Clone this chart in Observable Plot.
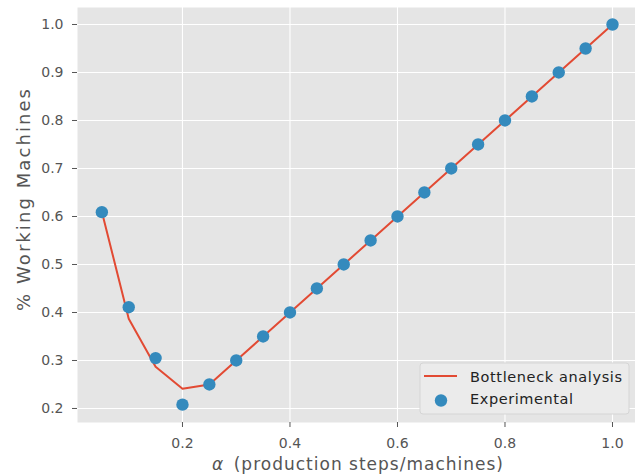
<!DOCTYPE html>
<html>
<head>
<meta charset="utf-8">
<script src="https://cdn.jsdelivr.net/npm/d3@7"></script>
<script src="https://cdn.jsdelivr.net/npm/@observablehq/plot@0.6"></script>
<style>
  html, body { margin: 0; padding: 0; background: white; }
</style>
</head>
<body>
<div id="chart"></div>
<script>
const alphaValues = [0.05,0.10,0.15,0.20,0.25,0.30,0.35,0.40,0.45,0.50,0.55,0.60,0.65,0.70,0.75,0.80,0.85,0.90,0.95,1.00];
const bottleneck = [0.61,0.387,0.287,0.241,0.25,0.30,0.35,0.40,0.45,0.50,0.55,0.60,0.65,0.70,0.75,0.80,0.85,0.90,0.95,1.00];
const experimental = [0.609,0.411,0.305,0.208,0.25,0.30,0.35,0.40,0.45,0.50,0.55,0.60,0.65,0.70,0.75,0.80,0.85,0.90,0.95,1.00];
const xTicks = [0.2,0.4,0.6,0.8,1.0];
const yTicks = [0.2,0.3,0.4,0.5,0.6,0.7,0.8,0.9,1.0];
const seriesNames = ["Bottleneck analysis","Experimental"];
const xLabel = "(production steps/machines)";
const yLabel = "% Working Machines";

const lineData = alphaValues.map((a,i)=>({x:a,y:bottleneck[i]}));
const dotData = alphaValues.map((a,i)=>({x:a,y:experimental[i]}));

const red = "#E24A33", blue = "#348ABD";
const font = "DejaVu Sans";

const chart = Plot.plot({
  width: 635, height: 476,
  marginLeft: 77, marginRight: 0, marginTop: 7, marginBottom: 54,
  style: {background: "white", fontFamily: font, fontSize: "14px", color: "#555", overflow: "visible"},
  x: {domain: [0.0047, 1.0428]},
  y: {domain: [0.1708, 1.0354]},
  marks: [
    Plot.frame({fill: "#E5E5E5", stroke: "none"}),
    Plot.gridX(xTicks, {stroke: "white", strokeOpacity: 1, strokeWidth: 1.1}),
    Plot.gridY(yTicks, {stroke: "white", strokeOpacity: 1, strokeWidth: 1.1}),
    Plot.axisX(xTicks, {tickSize: 5, tickPadding: 11, fontSize: 14, tickFormat: d3.format(".1f"), stroke: "#555", fill: "#555", label: null}),
    Plot.axisY(yTicks, {tickSize: 5, tickPadding: 9, fontSize: 14, tickFormat: d3.format(".1f"), stroke: "#555", fill: "#555", label: null}),
    Plot.line(lineData, {x: "x", y: "y", stroke: red, strokeWidth: 2}),
    Plot.dot(dotData, {x: "x", y: "y", r: 6.2, fill: blue, stroke: "none"})
  ]
});
document.getElementById("chart").appendChild(chart);

const svg = d3.select(chart);
// x label
const xl = svg.append("text")
  .attr("x", 212).attr("y", 470)
  .attr("text-anchor", "start")
  .attr("textLength", 291).attr("lengthAdjust", "spacing")
  .attr("font-family", font).attr("font-size", 17).attr("fill", "#555");
xl.append("tspan").attr("font-style", "italic").text("α");
xl.append("tspan").text("\u2002" + xLabel);
// y label
svg.append("text")
  .attr("transform", "translate(30,200) rotate(-90)")
  .attr("text-anchor", "middle")
  .attr("textLength", 222).attr("lengthAdjust", "spacing")
  .attr("font-family", font).attr("font-size", 18).attr("fill", "#555")
  .text(yLabel);

// legend
const lg = svg.append("g");
lg.append("rect").attr("x", 420).attr("y", 363).attr("width", 209).attr("height", 51)
  .attr("rx", 3).attr("fill", "#EBEBEB").attr("stroke", "#D5D5D5").attr("stroke-width", 1);
lg.append("line").attr("x1", 424).attr("x2", 457).attr("y1", 376).attr("y2", 376)
  .attr("stroke", red).attr("stroke-width", 2);
lg.append("circle").attr("cx", 441).attr("cy", 400.5).attr("r", 6.2).attr("fill", blue);
lg.append("text").attr("x", 470).attr("y", 382).attr("text-anchor", "start")
  .attr("textLength", 152).attr("lengthAdjust", "spacing")
  .attr("font-family", font).attr("font-size", 14.5).attr("fill", "#222").text(seriesNames[0]);
lg.append("text").attr("x", 470).attr("y", 404).attr("text-anchor", "start")
  .attr("textLength", 103).attr("lengthAdjust", "spacing")
  .attr("font-family", font).attr("font-size", 14.5).attr("fill", "#222").text(seriesNames[1]);
</script>
</body>
</html>
